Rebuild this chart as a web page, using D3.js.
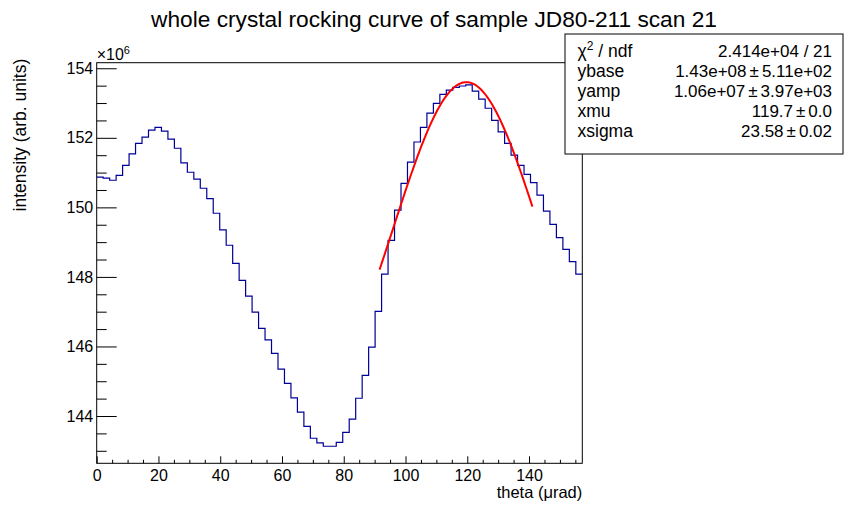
<!DOCTYPE html>
<html>
<head>
<meta charset="utf-8">
<script src="https://cdn.jsdelivr.net/npm/d3@7"></script>
<style>
  body { margin: 0; background: #fff; }
  svg text { font-family: "Liberation Sans", Arial, Helvetica, sans-serif; fill: #000; }
  .axis path { display: none; }
  .axis line { stroke: #000; stroke-width: 1; }
  .axis text { font-size: 16px; }
</style>
</head>
<body>
<div id="chart"></div>
<script>
// histogram content per bin, in units of 1e6 (75 bins over theta 0 .. 157.25 urad)
var thetaMin = 0;
var thetaMax = 157.25;
var intensity = [
  150.87, 150.84, 150.78, 150.92, 151.21, 151.54, 151.84, 152.02, 152.22, 152.30,
  152.19, 151.96, 151.70, 151.28, 151.01, 150.81, 150.55, 150.25, 149.83, 149.35,
  148.91, 148.39, 147.90, 147.45, 146.99, 146.52, 146.19, 145.80, 145.35, 144.94,
  144.52, 144.11, 143.70, 143.36, 143.23, 143.13, 143.13, 143.24, 143.53, 143.91,
  144.51, 145.17, 145.98, 147.01, 148.08, 149.05, 149.92, 150.69, 151.30, 151.88,
  152.30, 152.71, 152.99, 153.25, 153.37, 153.45, 153.49, 153.52, 153.34, 153.11,
  152.85, 152.50, 152.17, 151.84, 151.50, 151.21, 150.95, 150.71, 150.35, 149.89,
  149.51, 149.13, 148.79, 148.44, 148.08
];

// axis ticks
var xTicks = [0, 20, 40, 60, 80, 100, 120, 140];
var yTicks = [144, 146, 148, 150, 152, 154];
var yRange = [142.64, 154.16];

// fit result (gaussian on a flat base), values in 1e6
var fitRange = [91.6, 141.1];
var fitYbase = 143.0;
var fitYamp = 10.6;
var fitXmu = 119.7;
var fitXsigma = 23.58;

// stats box rows
var statNames = ["ndf", "ybase", "yamp", "xmu", "xsigma"];
var statVals = [
  ["2.414e+04 / 21"],
  ["1.43e+08", "5.11e+02"],
  ["1.06e+07", "3.97e+03"],
  ["119.7", "0.0"],
  ["23.58", "0.02"]
];

var titleText = "whole crystal rocking curve of sample JD80-211 scan 21";

var W = 862, H = 516;
var frame = {left: 96.7, right: 582.3, top: 62.7, bottom: 463.3};

var svg = d3.select("#chart").append("svg")
    .attr("width", W)
    .attr("height", H);

var x = d3.scaleLinear().domain([thetaMin, thetaMax]).range([frame.left, frame.right]);
var y = d3.scaleLinear().domain(yRange).range([frame.bottom, frame.top]);

//frame box
svg.append("rect")
    .attr("x", frame.left)
    .attr("y", frame.top)
    .attr("width", frame.right - frame.left)
    .attr("height", frame.bottom - frame.top)
    .attr("fill", "none")
    .attr("stroke", "#000")
    .attr("stroke-width", 1);

//x axis, ticks pointing into the frame
var xMinor = d3.range(0, thetaMax, 5).filter(function(d){ return d % 20 != 0; });

svg.append("g")
    .attr("class", "axis")
    .attr("transform", "translate(0," + frame.bottom + ")")
    .call(d3.axisBottom(x).tickValues(xTicks).tickSize(-7).tickPadding(6.5).tickFormat(d3.format("d")));

svg.append("g")
    .attr("class", "axis")
    .attr("transform", "translate(0," + frame.bottom + ")")
    .call(d3.axisBottom(x).tickValues(xMinor).tickSize(-3.5).tickFormat(""));

//y axis
var yMinor = d3.range(143, 154.1, 0.5).filter(function(d){ return d % 2 != 0; });

svg.append("g")
    .attr("class", "axis")
    .attr("transform", "translate(" + frame.left + ",0)")
    .call(d3.axisLeft(y).tickValues(yTicks).tickSize(-20).tickPadding(3.5).tickFormat(d3.format("d")));

svg.append("g")
    .attr("class", "axis")
    .attr("transform", "translate(" + frame.left + ",0)")
    .call(d3.axisLeft(y).tickValues(yMinor).tickSize(-10).tickFormat(""));

//exponent label
var expo = svg.append("text")
    .attr("x", frame.left)
    .attr("y", 59.5)
    .style("font-size", "16px")
    .text("\u00d710");
expo.append("tspan")
    .attr("dy", -6)
    .style("font-size", "11px")
    .text("6");

//axis titles
svg.append("text")
    .attr("x", frame.right)
    .attr("y", 498)
    .attr("text-anchor", "end")
    .style("font-size", "16.5px")
    .text("theta (\u03bcrad)");

svg.append("text")
    .attr("transform", "translate(25.5," + (frame.top - 4) + ") rotate(-90)")
    .attr("text-anchor", "end")
    .style("font-size", "17.5px")
    .text("intensity (arb. units)");

//title
svg.append("text")
    .attr("x", W / 2 + 3)
    .attr("y", 27)
    .attr("text-anchor", "middle")
    .style("font-size", "22.7px")
    .text(titleText);

//histogram outline
var binWidth = (thetaMax - thetaMin) / intensity.length;
var steps = intensity.map(function(v, i){ return [thetaMin + i * binWidth, v]; });
steps.push([thetaMax, intensity[intensity.length - 1]]);

var stepLine = d3.line()
    .x(function(d){ return x(d[0]); })
    .y(function(d){ return y(d[1]); })
    .curve(d3.curveStepAfter);

svg.append("path")
    .datum(steps)
    .attr("d", stepLine)
    .attr("fill", "none")
    .attr("stroke", "#000099")
    .attr("stroke-width", 1.2);

//fit function drawn from the fitted parameters
function fitFunc(t){
    var u = (t - fitXmu) / fitXsigma;
    return fitYbase + fitYamp * Math.exp(-0.5 * u * u);
}
var fitPts = d3.range(fitRange[0], fitRange[1], 0.25).concat([fitRange[1]])
    .map(function(t){ return [t, fitFunc(t)]; });

svg.append("path")
    .datum(fitPts)
    .attr("d", d3.line()
        .x(function(d){ return x(d[0]); })
        .y(function(d){ return y(d[1]); }))
    .attr("fill", "none")
    .attr("stroke", "#ff0000")
    .attr("stroke-width", 2);

//stats box
var box = {x: 565, y: 34, w: 278, h: 120};
svg.append("rect")
    .attr("x", box.x)
    .attr("y", box.y)
    .attr("width", box.w)
    .attr("height", box.h)
    .attr("fill", "#fff")
    .attr("stroke", "#000")
    .attr("stroke-width", 1);

statNames.forEach(function(name, i){
    var yy = 56.5 + i * 20.1;
    var lab = svg.append("text")
        .attr("x", 577.5)
        .attr("y", yy)
        .style("font-size", "17.5px");
    if (i == 0) {
        lab.append("tspan").text("\u03c7");
        lab.append("tspan").attr("dy", -6.5).style("font-size", "12px").text("2");
        lab.append("tspan").attr("dy", 6.5).text(" / ndf");
    } else {
        lab.text(name);
    }

    var val = svg.append("text")
        .attr("x", 832)
        .attr("y", yy)
        .attr("text-anchor", "end")
        .style("font-size", "17px");
    val.append("tspan").text(statVals[i][0]);
    if (statVals[i].length > 1) {
        val.append("tspan").attr("dx", 3).text("\u00b1");
        val.append("tspan").attr("dx", 3).text(statVals[i][1]);
    }
});
</script>
</body>
</html>
